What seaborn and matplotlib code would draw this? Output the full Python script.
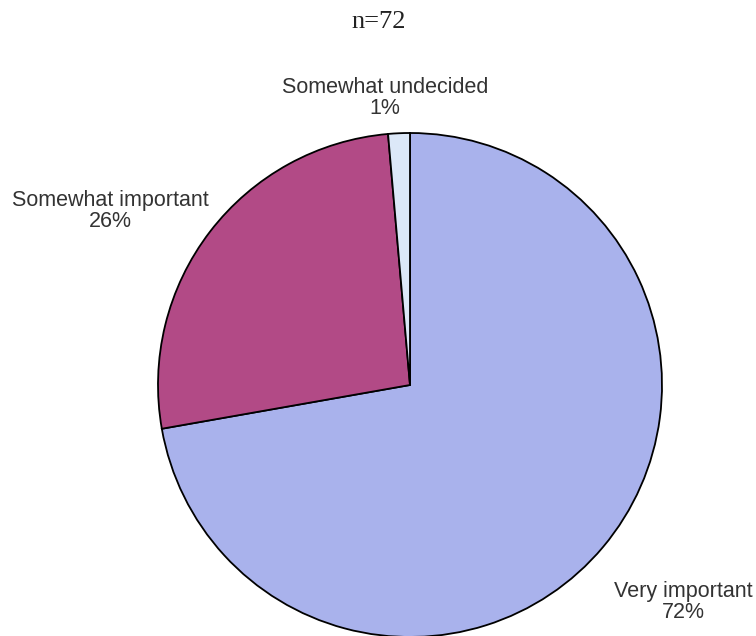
import matplotlib
matplotlib.use("Agg")
import matplotlib.pyplot as plt
import seaborn as sns

sns.set_theme(style="white")
plt.rcParams['font.family'] = ['Liberation Sans', 'DejaVu Sans']

# data (n=72 respondents)
categories = ["Very important", "Somewhat important", "Somewhat undecided"]
counts = [52, 19, 1]
colors = ["#A9B2EC", "#B24A86", "#DCE8F8"]
label_pos = [(1.085, -0.86), (-1.19, 0.69), (-0.10, 1.14)]

total = sum(counts)

fig = plt.figure(figsize=(7.56, 6.36), dpi=100)
ax = fig.add_axes([158 / 756, -1 / 636, 504 / 756, 504 / 636])

ax.pie(counts, colors=colors, startangle=90, counterclock=False, radius=1,
       wedgeprops=dict(edgecolor="black", linewidth=1.3))
ax.set_xlim(-1, 1)
ax.set_ylim(-1, 1)
ax.set_aspect("equal")
ax.axis("off")

for cat, c, (x, y) in zip(categories, counts, label_pos):
    ax.text(x, y, f"{cat}\n{c / total * 100:.0f}%", ha="center", va="center",
            fontsize=15.5, color="#333333", linespacing=1.0, clip_on=False)

fig.text(379 / 756, 1 - 22 / 636, f"n={total}", ha="center", va="center",
         fontsize=19, family=["Liberation Serif", "DejaVu Serif"], color="#222222")

fig.savefig("out.png", dpi=100)
